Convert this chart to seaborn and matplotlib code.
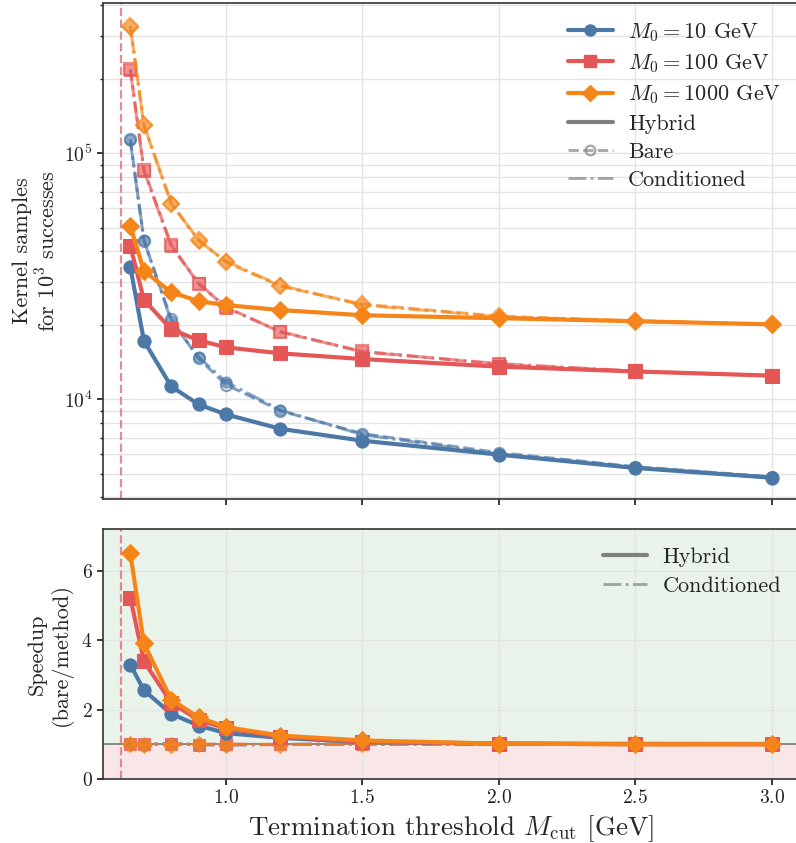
import numpy as np
import pandas as pd
import matplotlib
matplotlib.use("Agg")
import matplotlib.pyplot as plt
import seaborn as sns
from matplotlib.lines import Line2D

# ---------------- data ----------------
m_cut = [0.65, 0.7, 0.8, 0.9, 1.0, 1.2, 1.5, 2.0, 2.5, 3.0]
m0_labels = [r"$M_0 = 10$ GeV", r"$M_0 = 100$ GeV", r"$M_0 = 1000$ GeV"]

hybrid_10 = [34.6e3, 17.3e3, 11.3e3, 9.55e3, 8.7e3, 7.6e3, 6.8e3, 5.97e3, 5.27e3, 4.81e3]
bare_10 = [114e3, 44.2e3, 21.2e3, 14.7e3, 11.5e3, 9.0e3, 7.26e3, 6.08e3, 5.33e3, 4.85e3]
cond_10 = [113e3, 44.5e3, 20.8e3, 14.9e3, 11.8e3, 9.05e3, 7.2e3, 6.0e3, 5.3e3, 4.83e3]

hybrid_100 = [42.1e3, 25.4e3, 19.3e3, 17.4e3, 16.3e3, 15.4e3, 14.6e3, 13.6e3, 13.0e3, 12.5e3]
bare_100 = [220e3, 86e3, 42.5e3, 29.5e3, 23.8e3, 18.8e3, 15.7e3, 13.9e3, 13.0e3, 12.5e3]
cond_100 = [219e3, 85e3, 42.0e3, 29.8e3, 23.6e3, 18.9e3, 15.6e3, 14.0e3, 13.05e3, 12.5e3]

hybrid_1000 = [50.8e3, 33.3e3, 27.3e3, 25.1e3, 24.2e3, 23.1e3, 22.0e3, 21.4e3, 20.8e3, 20.2e3]
bare_1000 = [330e3, 130e3, 62.5e3, 44.6e3, 36.2e3, 28.9e3, 24.4e3, 21.8e3, 20.8e3, 20.2e3]
cond_1000 = [328e3, 131e3, 63.0e3, 44.2e3, 36.5e3, 29.1e3, 24.2e3, 21.7e3, 20.9e3, 20.2e3]

m_threshold = 0.615

hybrid = [hybrid_10, hybrid_100, hybrid_1000]
bare = [bare_10, bare_100, bare_1000]
cond = [cond_10, cond_100, cond_1000]

colors = ["#4C78A8", "#E45756", "#F58518"]
markers = ["o", "s", "D"]

# ---------------- style ----------------
sns.set_theme(style="whitegrid")
plt.rcParams.update({
    "font.family": "serif",
    "font.serif": ["cmr10"],
    "mathtext.fontset": "cm",
    "axes.formatter.use_mathtext": True,
    "axes.unicode_minus": False,
    "axes.edgecolor": "#333333",
    "axes.linewidth": 1.2,
    "grid.color": "#e3e3e3",
    "grid.linewidth": 1.0,
    "xtick.bottom": True,
    "ytick.left": True,
    "xtick.color": "#222222",
    "ytick.color": "#222222",
    "xtick.major.size": 4,
    "ytick.major.size": 4,
    "ytick.minor.size": 2.5,
    "ytick.minor.left": True,
})

fig = plt.figure(figsize=(7.96, 8.43), dpi=100)
ax1 = fig.add_axes([103/796, (843-499)/843, 696/796, 496/843])
ax2 = fig.add_axes([103/796, (843-779)/843, 696/796, 250/843], sharex=ax1)

# ---------------- top panel ----------------
for i in range(3):
    df_h = pd.DataFrame({"m": m_cut, "n": hybrid[i]})
    df_b = pd.DataFrame({"m": m_cut, "n": bare[i]})
    df_c = pd.DataFrame({"m": m_cut, "n": cond[i]})
    sns.lineplot(data=df_b, x="m", y="n", ax=ax1, color=colors[i], marker=markers[i],
                 linestyle="--", linewidth=2.2, alpha=0.7, markersize=8,
                 markerfacecolor="none", markeredgecolor=colors[i], markeredgewidth=1.6,
                 zorder=2)
    sns.lineplot(data=df_c, x="m", y="n", ax=ax1, color=colors[i], marker=markers[i],
                 linestyle="-.", linewidth=2.2, alpha=0.65, markersize=8,
                 markeredgecolor=colors[i], zorder=2)
    sns.lineplot(data=df_h, x="m", y="n", ax=ax1, color=colors[i], marker=markers[i],
                 linestyle="-", linewidth=3.0, markersize=9.5,
                 markeredgecolor=colors[i], zorder=3)

ax1.axvline(m_threshold, color="#d9737b", linestyle="--", linewidth=1.6, alpha=0.8, zorder=1)
ax1.set_yscale("log")
ax1.set_ylim(3.94e3, 4.09e5)
ax1.set_xlim(0.55, 3.1)
ax1.grid(True, which="both", axis="y")
ax1.grid(True, which="major", axis="x")
ax1.set_xlabel("")
ax1.set_ylabel("Kernel samples\nfor $10^3$ successes", fontsize=16, labelpad=3)
ax1.tick_params(axis="both", labelsize=14)
plt.setp(ax1.get_xticklabels(), visible=False)

handles1 = [Line2D([], [], color=colors[i], marker=markers[i], linewidth=3, markersize=8,
                   label=m0_labels[i]) for i in range(3)]
handles1 += [
    Line2D([], [], color="gray", linewidth=3, label="Hybrid"),
    Line2D([], [], color="gray", linestyle="--", linewidth=2, marker="o", markerfacecolor="none",
           markersize=7, markeredgewidth=1.6, alpha=0.7, label="Bare"),
    Line2D([], [], color="gray", linestyle="-.", linewidth=2, alpha=0.7, label="Conditioned"),
]
ax1.legend(handles=handles1, loc="upper right", frameon=False, fontsize=16,
           handlelength=2.0, handletextpad=0.7, labelspacing=0.38, borderaxespad=0.3,
           bbox_to_anchor=(0.997, 0.995))

# ---------------- bottom panel ----------------
ax2.axhspan(1.0, 7.2, color="#2e8b2e", alpha=0.1, linewidth=0, zorder=0)
ax2.axhspan(0.0, 1.0, color="#d04040", alpha=0.12, linewidth=0, zorder=0)
ax2.axhline(1.0, color="#777777", linewidth=1.2, zorder=1)
ax2.axvline(m_threshold, color="#d9737b", linestyle="--", linewidth=1.6, alpha=0.8, zorder=1)

for i in range(3):
    sp_h = np.array(bare[i]) / np.array(hybrid[i])
    sp_c = np.array(bare[i]) / np.array(cond[i])
    df_sh = pd.DataFrame({"m": m_cut, "s": sp_h})
    df_sc = pd.DataFrame({"m": m_cut, "s": sp_c})
    sns.lineplot(data=df_sc, x="m", y="s", ax=ax2, color=colors[i], marker=markers[i],
                 linestyle="-.", linewidth=2.2, alpha=0.75, markersize=8.5,
                 markeredgecolor=colors[i], zorder=2)
    sns.lineplot(data=df_sh, x="m", y="s", ax=ax2, color=colors[i], marker=markers[i],
                 linestyle="-", linewidth=3.0, markersize=9.5,
                 markeredgecolor=colors[i], zorder=3)

ax2.set_ylim(0, 7.2)
ax2.set_yticks([0, 2, 4, 6])
ax2.set_xticks([1.0, 1.5, 2.0, 2.5, 3.0])
ax2.set_xlim(0.55, 3.1)
ax2.grid(True, which="major")
ax2.set_ylabel("Speedup\n(bare/method)", fontsize=16, labelpad=6)
ax2.set_xlabel(r"Termination threshold $M_{\rm cut}$ [GeV]", fontsize=19.5, labelpad=4)
ax2.tick_params(axis="both", labelsize=14)

handles2 = [
    Line2D([], [], color="gray", linewidth=3, label="Hybrid"),
    Line2D([], [], color="gray", linestyle="-.", linewidth=2, alpha=0.7, label="Conditioned"),
]
ax2.legend(handles=handles2, loc="upper right", frameon=False, fontsize=16,
           handlelength=2.0, handletextpad=0.7, labelspacing=0.42, borderaxespad=0.3,
           bbox_to_anchor=(0.997, 0.99))

for ax in (ax1, ax2):
    ax.spines["right"].set_visible(False)

fig.savefig("out.png", dpi=100)
